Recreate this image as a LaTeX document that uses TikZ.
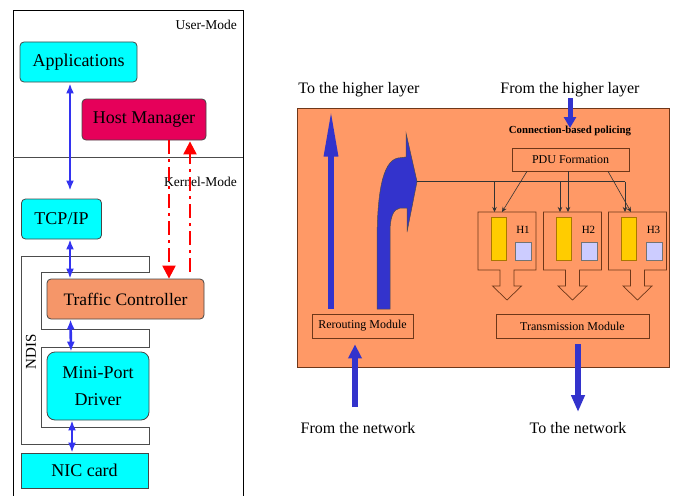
\documentclass[tikz,border=0pt]{standalone}
\usepackage{fontspec}
\setmainfont{Liberation Serif}
\usetikzlibrary{arrows.meta,calc}
\definecolor{cyanbox}{RGB}{0,255,255}
\definecolor{hostred}{RGB}{230,0,90}
\definecolor{tcorange}{RGB}{245,150,105}
\definecolor{panelorange}{RGB}{255,153,102}
\definecolor{panelline}{RGB}{110,55,25}
\definecolor{arrowblue}{RGB}{51,51,204}
\definecolor{smallblue}{RGB}{51,51,240}
\definecolor{boxedge}{RGB}{70,70,70}
\definecolor{hyellow}{RGB}{255,204,0}
\definecolor{hyedge}{RGB}{170,120,0}
\definecolor{hlav}{RGB}{204,204,255}
\begin{document}
\begin{tikzpicture}[x=1pt,y=-1pt,
  lbox/.style={draw=boxedge, line width=0.8pt, rounded corners=4pt, inner sep=0pt, font=\fontsize{18}{27}\selectfont, align=center},
  pbox/.style={draw=panelline, line width=0.7pt, inner sep=0pt, font=\fontsize{12}{14}\selectfont},
  bdarrow/.style={smallblue, line width=2.6pt, {Latex[length=10pt,width=8pt]}-{Latex[length=10pt,width=8pt]}},
  reddash/.style={red, line width=2.2pt, dash pattern=on 14pt off 5pt on 3pt off 5pt, -{Triangle[length=13pt,width=13pt]}},
  thinarrow/.style={draw=black!80, line width=0.6pt, -{Stealth[length=5pt,width=4.5pt]}},
  thinline/.style={draw=black!80, line width=0.6pt},
  bigtext/.style={font=\fontsize{16}{18}\selectfont, inner sep=0pt},
  modetext/.style={font=\fontsize{13.5}{15}\selectfont, inner sep=0pt}
]
\useasboundingbox (0,0) rectangle (676,495);
% ---------- left panel ----------
\draw[black, line width=0.8pt] (13,497) -- (13,10) -- (243,10) -- (243,497);
\draw[black!70, line width=0.8pt] (13,157) -- (243,157);
\node[modetext, anchor=east] (um) at (237,25) {User-Mode};
\node[modetext, anchor=east] (km) at (237,182) {Kernel-Mode};
% NDIS outline
\draw[black!70, line width=0.8pt] (21,256) -- (149,256) -- (149,272) -- (41,272) -- (41,329) -- (149,329) -- (149,347) -- (41,347) -- (41,427) -- (149,427) -- (149,444) -- (21,444) -- cycle;
\node[rotate=90, font=\fontsize{15}{17}\selectfont, inner sep=0pt] (ndis) at (31,352) {NDIS};
\node[lbox, fill=cyanbox, minimum width=117pt, minimum height=40pt] (app) at (78.5,62) {Applications};
\node[lbox, fill=hostred, minimum width=124pt, minimum height=41pt] (hm) at (144,119.5) {Host Manager};
\node[lbox, fill=cyanbox, minimum width=80pt, minimum height=40pt] (tcp) at (61.5,219) {TCP/IP};
\node[lbox, fill=tcorange, minimum width=157pt, minimum height=40pt, font=\fontsize{17.5}{20}\selectfont] (tc) at (125.5,299) {Traffic Controller};
\node[lbox, fill=cyanbox, minimum width=102pt, minimum height=68pt, rounded corners=8pt] (mp) at (98,386) {Mini-Port\\Driver};
\node[lbox, fill=cyanbox, minimum width=127pt, minimum height=35pt, rounded corners=0pt] (nic) at (84.5,470.5) {NIC card};
% blue double arrows
\draw[bdarrow] ($(app.south)+(-8.5,1)$) -- ($(tcp.north)+(8.5,-8)$);
\draw[bdarrow] ($(tcp.south)+(8.5,0)$) -- ($(tc.north)+(-55.5,0)$);
\draw[bdarrow] ($(tc.south)+(-55,0)$) -- ($(mp.north)+(-27,0)$);
\draw[bdarrow] ($(mp.south)+(-26,0)$) -- ($(nic.north)+(-12.5,0)$);
% red dash-dot arrows
\coordinate (rup) at (190,272);
\draw[reddash] ($(hm.south)+(25,0)$) -- ($(tc.north)+(43.5,0)$);
\draw[reddash] (rup) -- ($(hm.south)+(46,1)$);
% ---------- right panel ----------
\node[draw=panelline, line width=0.8pt, fill=panelorange, minimum width=372pt, minimum height=259pt, inner sep=0pt] (panel) at (483,237.5) {};
\node[bigtext] (tohl) at (359,90) {To the higher layer};
\node[bigtext] (fromhl) at (570,90) {From the higher layer};
\node[bigtext] (fromnet) at (358,428) {From the network};
\node[bigtext] (tonet) at (578,428) {To the network};
\node[font=\bfseries\fontsize{10.8}{12}\selectfont, inner sep=0pt] (cbp) at (570,131) {Connection-based policing};
\node[pbox, minimum width=117pt, minimum height=23pt] (pdu) at (570.5,159.5) {PDU Formation};
\node[pbox, minimum width=101pt, minimum height=24pt] (rr) at (362.5,326) {Rerouting Module};
\node[pbox, minimum width=153pt, minimum height=24pt] (tm) at (572.5,326) {Transmission Module};
% big blue arrows
\draw[arrowblue, line width=6pt, -{Triangle[length=48pt,width=13pt]}] ($(rr.north)+(-31.5,-5)$) -- ($(panel.north)+(-152,1)$);
\coordinate (fh1) at (570,98);
\coordinate (fh2) at (570,128);
\draw[arrowblue, line width=5pt, -{Triangle[length=11pt,width=12pt]}] (fh1) -- (fh2);
\coordinate (fn1) at (355,407);
\draw[arrowblue, line width=6pt, -{Triangle[length=14pt,width=13pt]}] (fn1) -- ($(rr.south)+(-7.5,6)$);
\coordinate (tn2) at (578,412);
\draw[arrowblue, line width=6pt, -{Triangle[length=17pt,width=13pt]}] ($(tm.south)+(5.5,6)$) -- (tn2);
% curved arrow
\draw[fill=arrowblue, draw=black!70, line width=0.5pt]
  (377,309) -- (377,245) .. controls (377,195) and (382,161) .. (398,158) -- (406,157) -- (406,133) -- (417,181.5) -- (407,232) -- (407,208) -- (400,208) .. controls (393,209) and (390,218) .. (390,232) -- (390,309) -- cycle;
\coordinate (ctip) at (417,181.5);
% H callouts
\foreach \cx/\lab in {507/H1, 572.5/H2, 637.5/H3}{
  \begin{scope}[shift={(\cx,0)}]
    \draw[panelline, line width=0.7pt, fill=panelorange] (-29,212) -- (29,212) -- (29,270) -- (7,270) -- (7,286) -- (14.5,286) -- (0,300) -- (-14.5,286) -- (-7,286) -- (-7,270) -- (-29,270) -- cycle;
    \draw[hyedge, line width=0.6pt, fill=hyellow] (-16,217) rectangle (-1,260);
    \draw[black!55, line width=0.6pt, fill=hlav] (8.5,242) rectangle (24.5,260);
    \node[font=\fontsize{11}{12}\selectfont, inner sep=0pt] at (16,230) {\lab};
  \end{scope}
}
% connectors to H boxes
\draw[thinline] (ctip) -- (625,181.5);
\draw[thinarrow] (625,181.5) -- (625,212);
\draw[thinarrow] (494.5,181.5) -- (494.5,212);
\draw[thinarrow] (560,181.5) -- (560,212);
\draw[thinarrow] ($(pdu.south)+(-43.5,0)$) -- (502,212);
\draw[thinarrow] ($(pdu.south)+(-2.5,0)$) -- (568,212);
\draw[thinarrow] ($(pdu.south)+(37.5,0)$) -- (631,212);
\end{tikzpicture}
\end{document}
